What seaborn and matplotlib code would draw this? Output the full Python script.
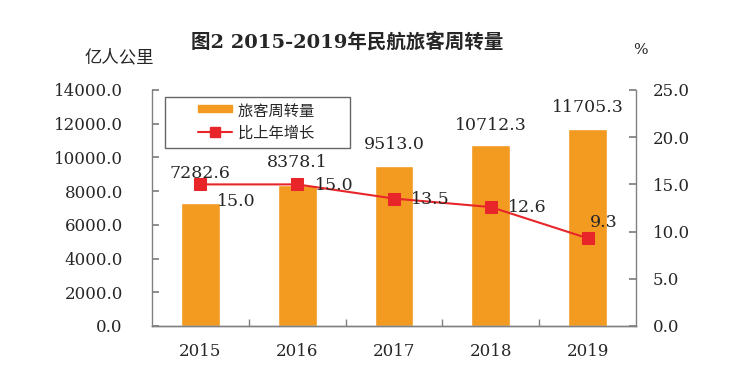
import matplotlib
matplotlib.use("Agg")
import matplotlib.pyplot as plt
from matplotlib.lines import Line2D
from matplotlib.patches import Patch
from matplotlib.legend_handler import HandlerPatch, HandlerLine2D
import seaborn as sns
import pandas as pd

# data
years = ["2015", "2016", "2017", "2018", "2019"]
volume = [7282.6, 8378.1, 9513.0, 10712.3, 11705.3]   # 亿人公里
growth = [15.0, 15.0, 13.5, 12.6, 9.3]                 # %
left_ticks = [0, 2000, 4000, 6000, 8000, 10000, 12000, 14000]
right_ticks = [0, 5, 10, 15, 20, 25]

bar_color = "#F39A21"
line_color = "#E8262A"
spine_color = "#808080"
num_font = ["DejaVu Serif", "Noto Sans CJK SC"]

sns.set_theme(style="white")
plt.rcParams["font.family"] = num_font

df = pd.DataFrame({"year": years, "volume": volume, "growth": growth})

fig = plt.figure(figsize=(7.47, 3.81), dpi=100)
ax = fig.add_axes([152 / 747, 1 - 326 / 381, 484 / 747, 236 / 381])

sns.barplot(data=df, x="year", y="volume", color=bar_color, width=0.4,
            saturation=1, ax=ax)
ax.set_xlim(-0.5, 4.5)
ax.set_ylim(0, 14000)
ax.set_yticks(left_ticks)
ax.set_yticklabels([f"{v}.0" for v in left_ticks], fontsize=12)
ax.set_xlabel("")
ax.set_ylabel("")
ax.tick_params(axis="x", labelsize=12, length=0, pad=12)
ax.tick_params(axis="y", direction="in", length=5, color=spine_color,
               left=True, pad=21)
# x ticks between categories
ax.set_xticks([0.5, 1.5, 2.5, 3.5], minor=True)
ax.tick_params(axis="x", which="minor", direction="in", length=5,
               color=spine_color, bottom=True)

ax2 = ax.twinx()
sns.lineplot(x=list(range(len(years))), y=growth, color=line_color,
             marker="s", markersize=8, markeredgecolor=line_color,
             linewidth=1.5, ax=ax2)
ax2.set_ylim(0, 25)
ax2.set_yticks(right_ticks)
ax2.set_yticklabels([f"{v}.0" for v in right_ticks], fontsize=12)
ax2.tick_params(axis="y", direction="in", length=5, color=spine_color,
                right=True, pad=12)

for a in (ax, ax2):
    a.spines["top"].set_visible(False)
    for side in ("left", "right", "bottom"):
        a.spines[side].set_color(spine_color)
        a.spines[side].set_linewidth(1)
ax2.spines["left"].set_visible(False)
ax.spines["right"].set_visible(False)

# value labels above bars (offsets in points)
bar_offsets = [21.5, 16, 15, 14.5, 15.5]
for i, v in enumerate(volume):
    ax.annotate(f"{v:.1f}", (i, v), xytext=(0, bar_offsets[i]),
                textcoords="offset points", ha="center", va="center",
                fontsize=12.5)

# growth labels
growth_offsets = [(26, -12), (26.5, -1), (26.5, -1), (26.5, 0), (11.5, 11)]
for i, g in enumerate(growth):
    dx, dy = growth_offsets[i]
    ax2.annotate(f"{g:.1f}", (i, g), xytext=(dx, dy),
                 textcoords="offset points", ha="center", va="center",
                 fontsize=12.5)

handles = [Patch(color=bar_color),
           Line2D([0], [0], color=line_color, marker="s", markersize=7,
                  linewidth=1.5)]
leg = ax.legend(handles, ["旅客周转量\u3000\u3000", "比上年增长\u3000\u3000"],
                loc="upper left",
                bbox_to_anchor=(13 / 484, 1 - 7 / 236), frameon=True,
                fancybox=False, edgecolor="#404040",
                prop={"family": ["Noto Sans CJK SC"], "size": 11},
                handlelength=4.0, handletextpad=0.35, borderpad=0.4,
                labelspacing=0.3, borderaxespad=0,
                handler_map={Patch: HandlerPatch(xpad=1.75, ypad=0.25),
                             Line2D: HandlerLine2D(xpad=1.75)})
leg.get_frame().set_linewidth(1)

fig.text(347 / 747, 1 - 42 / 381, "图2 2015-2019年民航旅客周转量", ha="center",
         va="center", fontsize=14, fontweight="bold", family=num_font)
fig.text(119 / 747, 1 - 57 / 381, "亿人公里", ha="center", va="center",
         fontsize=12.5, family=["Noto Sans CJK SC"])
fig.text(640 / 747, 1 - 50 / 381, "%", ha="center", va="center",
         fontsize=11, family=num_font)

fig.savefig("out.png", dpi=100, facecolor="white")
